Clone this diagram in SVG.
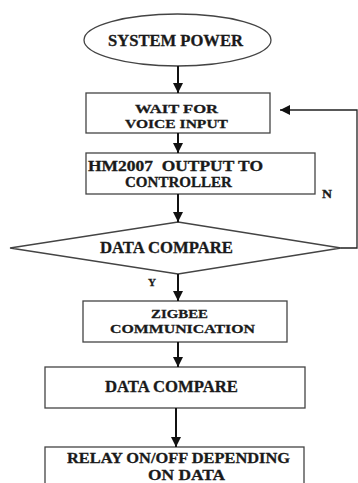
<svg xmlns="http://www.w3.org/2000/svg" width="358" height="483" viewBox="0 0 358 483">
<defs>
<marker id="ah" viewBox="0 0 10 10" refX="10" refY="5" markerWidth="10" markerHeight="10" markerUnits="userSpaceOnUse" orient="auto">
<path d="M0,0 L10,5 L0,10 z" fill="#111"/>
</marker>
<style>
.shape{fill:#fff;stroke:#444;stroke-width:1.3}
.t{font-family:'Liberation Serif','Times New Roman',serif;font-weight:bold;font-size:16px;fill:#1a1a1a;stroke:#1a1a1a;stroke-width:0.3}
.s{font-size:13.5px}
.m{font-size:14.5px}
.c{fill:none;stroke:#111;stroke-width:2}
.fb{fill:none;stroke:#222;stroke-width:1.3}
</style>
</defs>
<rect width="358" height="483" fill="#fff"/>
<g id="start">
<ellipse class="shape" cx="177.5" cy="40" rx="93.5" ry="26"/>
<text class="t" x="108" y="46" textLength="135" lengthAdjust="spacingAndGlyphs">SYSTEM POWER</text>
</g>
<g id="wait">
<rect class="shape" x="86" y="93" width="184" height="40"/>
<text class="t s" x="135" y="113" textLength="83" lengthAdjust="spacingAndGlyphs">WAIT FOR</text>
<text class="t s" x="125" y="128" textLength="103" lengthAdjust="spacingAndGlyphs">VOICE INPUT</text>
</g>
<g id="hm2007">
<rect class="shape" x="86" y="153" width="229" height="41"/>
<text class="t m" x="88" y="171" textLength="175" lengthAdjust="spacingAndGlyphs" xml:space="preserve">HM2007  OUTPUT TO</text>
<text class="t m" x="125" y="187" textLength="107" lengthAdjust="spacingAndGlyphs">CONTROLLER</text>
</g>
<g id="decision">
<polygon class="shape" points="178,222 341,248 178,274 10,248"/>
<text class="t" x="100" y="253" textLength="133" lengthAdjust="spacingAndGlyphs">DATA COMPARE</text>
</g>
<g id="zigbee">
<rect class="shape" x="83" y="301" width="204" height="41"/>
<text class="t s" x="151" y="318" textLength="57" lengthAdjust="spacingAndGlyphs">ZIGBEE</text>
<text class="t s" x="110" y="333" textLength="145" lengthAdjust="spacingAndGlyphs">COMMUNICATION</text>
</g>
<g id="compare2">
<rect class="shape" x="45" y="367" width="260" height="41"/>
<text class="t" x="105" y="392" textLength="133" lengthAdjust="spacingAndGlyphs">DATA COMPARE</text>
</g>
<g id="relay">
<rect class="shape" x="45" y="447" width="259" height="45"/>
<text class="t" x="67" y="463" style="font-size:15px" textLength="223" lengthAdjust="spacingAndGlyphs">RELAY ON/OFF DEPENDING</text>
<text class="t" x="148" y="480" style="font-size:15px" textLength="77" lengthAdjust="spacingAndGlyphs">ON DATA</text>
</g>
<g id="connectors">
<line class="c" x1="178" y1="66" x2="178" y2="93" marker-end="url(#ah)"/>
<line class="c" x1="178" y1="133" x2="178" y2="153" marker-end="url(#ah)"/>
<line class="c" x1="178" y1="194" x2="178" y2="222" marker-end="url(#ah)"/>
<line class="c" x1="178" y1="274" x2="178" y2="301" marker-end="url(#ah)"/>
<line class="c" x1="178" y1="342" x2="178" y2="367" marker-end="url(#ah)"/>
<line class="c" x1="176" y1="408" x2="176" y2="447" marker-end="url(#ah)"/>
<polyline class="fb" points="341,248 357,248 357,110 280,110" marker-end="url(#ah)"/>
<text class="t" x="322" y="198" style="font-size:12px" textLength="10" lengthAdjust="spacingAndGlyphs">N</text>
<text class="t" x="148" y="286" style="font-size:10px" textLength="8" lengthAdjust="spacingAndGlyphs">Y</text>
</g>
</svg>
